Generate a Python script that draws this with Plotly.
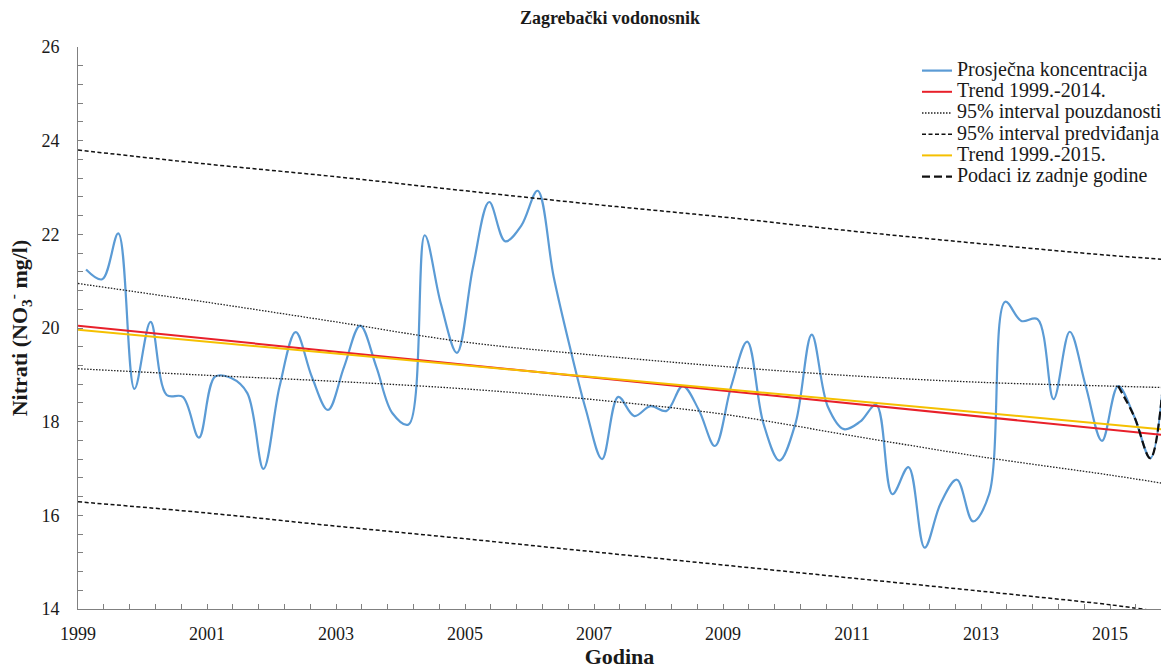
import plotly.graph_objects as go

# Quarterly mean nitrate concentration, Zagreb aquifer (mid-quarter, decimal years)
quarter_t = [
    1999.125, 1999.375, 1999.625, 1999.875,
    2000.125, 2000.375, 2000.625, 2000.875,
    2001.125, 2001.375, 2001.625, 2001.875,
    2002.125, 2002.375, 2002.625, 2002.875,
    2003.125, 2003.375, 2003.625, 2003.875,
    2004.125, 2004.375, 2004.625, 2004.875,
    2005.125, 2005.375, 2005.625, 2005.875,
    2006.125, 2006.375, 2006.625, 2006.875,
    2007.125, 2007.375, 2007.625, 2007.875,
    2008.125, 2008.375, 2008.625, 2008.875,
    2009.125, 2009.375, 2009.625, 2009.875,
    2010.125, 2010.375, 2010.625, 2010.875,
    2011.125, 2011.375, 2011.625, 2011.875,
    2012.125, 2012.375, 2012.625, 2012.875,
    2013.125, 2013.375, 2013.625, 2013.875,
    2014.125, 2014.375, 2014.625, 2014.875,
    2015.125, 2015.375, 2015.625, 2015.875,
]
avg_no3 = [
    21.25, 21.04, 22.02, 18.70,
    20.13, 18.57, 18.53, 17.66,
    18.96, 18.93, 18.61, 16.99,
    18.75, 19.91, 18.96, 18.25,
    19.17, 20.05, 19.17, 18.18,
    17.94, 21.98, 20.52, 19.47,
    21.31, 22.69, 21.85, 22.19,
    22.93, 21.09, 19.60, 18.25,
    17.20, 18.53, 18.12, 18.33,
    18.23, 18.76, 18.25, 17.48,
    18.75, 19.71, 17.97, 17.17,
    17.97, 19.86, 18.32, 17.84,
    18.00, 18.36, 16.45, 17.03,
    15.31, 16.26, 16.76, 15.87,
    16.45, 20.56, 20.15, 20.19,
    18.48, 19.92, 18.75, 17.59,
    18.76, 18.11, 17.22, 19.70,
]

# Last year of observations (2015)
last_year_t = [2015.125, 2015.375, 2015.625, 2015.875]
last_year_no3 = [18.76, 18.11, 17.22, 19.70]

# Linear trends at the edges of the time axis
trend_t = [1999.0, 2015.79]
trend_1999_2014 = [20.05, 17.72]
trend_1999_2015 = [19.96, 17.84]

# Confidence / prediction bands around the 1999-2014 trend
band_t = [1999.0, 2001.0, 2003.0, 2005.0, 2007.0, 2009.0, 2011.0, 2013.0, 2015.0, 2015.79]
conf_upper = [20.95, 20.55, 20.13, 19.70, 19.42, 19.18, 18.98, 18.84, 18.76, 18.73]
conf_lower = [19.13, 18.99, 18.86, 18.70, 18.47, 18.16, 17.70, 17.25, 16.86, 16.69]
pred_upper = [23.80, 23.50, 23.23, 22.93, 22.64, 22.37, 22.07, 21.80, 21.55, 21.47]
pred_lower = [16.29, 16.05, 15.77, 15.50, 15.22, 14.94, 14.66, 14.38, 14.09, 13.94]

# Axis ticks
x_ticks = [1999, 2001, 2003, 2005, 2007, 2009, 2011, 2013, 2015]
y_ticks = [14, 16, 18, 20, 22, 24, 26]

SERIF = "Liberation Serif"
LEG = '<span style="font-size:20px">{}</span>'


def smooth(color, width, dash="solid"):
    return dict(color=color, width=width, dash=dash, shape="spline", smoothing=1)


fig = go.Figure()

fig.add_trace(go.Scatter(
    x=quarter_t, y=avg_no3, mode="lines",
    line=smooth("#5b9bd5", 2.2),
    name=LEG.format("Prosječna koncentracija"),
))
fig.add_trace(go.Scatter(
    x=trend_t, y=trend_1999_2014, mode="lines",
    line=dict(color="#e8202a", width=2),
    name=LEG.format("Trend 1999.-2014."),
))
fig.add_trace(go.Scatter(
    x=band_t, y=conf_upper, mode="lines",
    line=smooth("#222222", 1.3, "1.5px,1.5px"),
    name=LEG.format("95% interval pouzdanosti"), legendgroup="conf",
))
fig.add_trace(go.Scatter(
    x=band_t, y=pred_upper, mode="lines",
    line=smooth("#111111", 1.5, "4px,2.5px"),
    name=LEG.format("95% interval predviđanja"), legendgroup="pred",
))
fig.add_trace(go.Scatter(
    x=band_t, y=conf_lower, mode="lines",
    line=smooth("#222222", 1.3, "1.5px,1.5px"),
    name="conf_lower", legendgroup="conf", showlegend=False,
))
fig.add_trace(go.Scatter(
    x=band_t, y=pred_lower, mode="lines",
    line=smooth("#111111", 1.5, "4px,2.5px"),
    name="pred_lower", legendgroup="pred", showlegend=False,
))
fig.add_trace(go.Scatter(
    x=trend_t, y=trend_1999_2015, mode="lines",
    line=dict(color="#f5c000", width=2),
    name=LEG.format("Trend 1999.-2015."),
))
fig.add_trace(go.Scatter(
    x=last_year_t, y=last_year_no3, mode="lines",
    line=smooth("#111111", 2.2, "8px,4px"),
    name=LEG.format("Podaci iz zadnje godine"),
))

axis_common = dict(
    showline=True, linecolor="#808080", linewidth=1,
    ticks="inside", ticklen=5, tickcolor="#808080", tickwidth=1,
    showgrid=False, zeroline=False,
    tickfont=dict(family=SERIF, size=18, color="#1a1a1a"),
)

fig.update_layout(
    width=1161, height=670,
    margin=dict(l=78, r=0, t=47, b=61, autoexpand=False),
    paper_bgcolor="white", plot_bgcolor="white",
    font=dict(family=SERIF, color="#1a1a1a"),
    title=dict(
        text="<b>Zagrebački vodonosnik</b>",
        font=dict(family=SERIF, size=18, color="#1a1a1a"),
        x=610 / 1161, xanchor="center", y=1 - 18 / 670, yanchor="middle",
    ),
    xaxis=dict(
        range=[1999, 2015.79], tickmode="array", tickvals=x_ticks,
        minor=dict(dtick=0.4, tick0=1999, ticks="inside", ticklen=5,
                   tickcolor="#808080", showgrid=False),
        ticklabelstandoff=8,
        title=dict(text="<b>Godina</b>", font=dict(family=SERIF, size=22),
                   standoff=3),
        **axis_common,
    ),
    yaxis=dict(
        range=[14, 26], tickmode="array", tickvals=y_ticks,
        minor=dict(dtick=0.4, tick0=14, ticks="inside", ticklen=5,
                   tickcolor="#808080", showgrid=False),
        ticklabelstandoff=14,
        title=dict(text="<b>Nitrati (NO<sub>3</sub><sup>-</sup> mg/l)</b>",
                   font=dict(family=SERIF, size=22), standoff=7),
        **axis_common,
    ),
    legend=dict(
        x=(917 - 78) / 1083, xanchor="left", y=1 - 8 / 562, yanchor="top",
        bgcolor="rgba(0,0,0,0)", borderwidth=0,
        font=dict(family=SERIF, size=14, color="#1a1a1a"),
        tracegroupgap=0,
    ),
    showlegend=True,
)

fig.write_html("out.html")
